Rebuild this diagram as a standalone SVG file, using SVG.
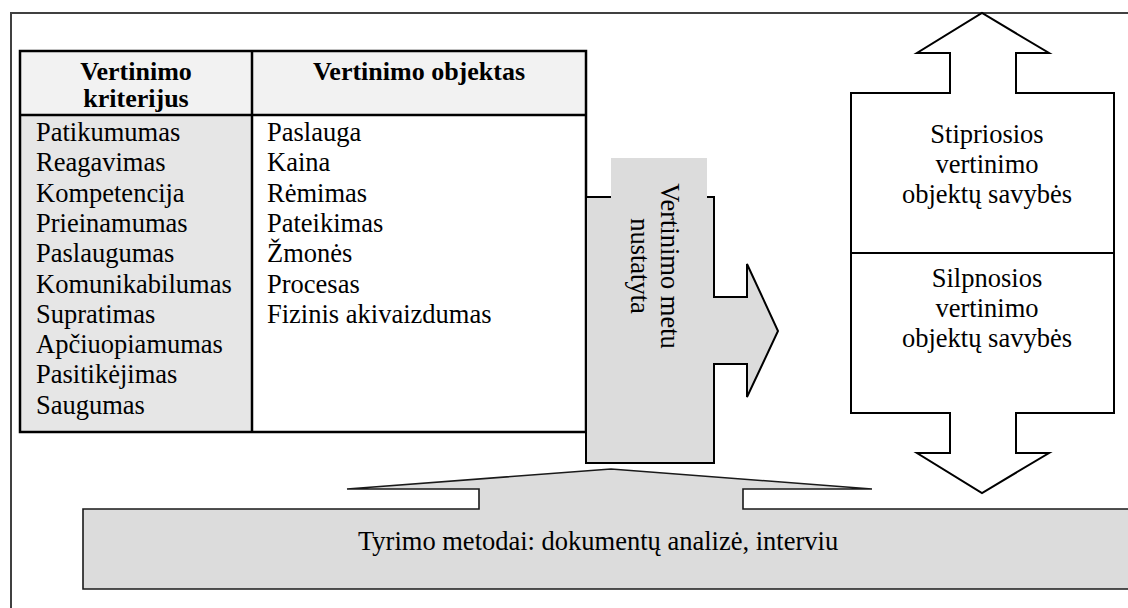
<svg xmlns="http://www.w3.org/2000/svg" width="1128" height="608" viewBox="0 0 1128 608" font-family="'Liberation Serif', 'Times New Roman', serif" font-size="26.5">
  <style>
    .hdr { font-weight: bold; text-anchor: middle; font-size: 26px; }
    .mid { text-anchor: middle; }
    .grid { stroke: #000; stroke-width: 2.5; fill: none; }
    .outline { stroke: #000; stroke-width: 2; stroke-linejoin: miter; }
  </style>

  <!-- page frame -->
  <rect x="11" y="13" width="1130" height="610" fill="#fff" stroke="#404040" stroke-width="2"/>

  <!-- evaluation table -->
  <g id="table">
    <rect x="20" y="51" width="566" height="64" fill="#f2f2f2"/>
    <rect x="20" y="115" width="232" height="317" fill="#e6e6e6"/>
    <rect x="252" y="115" width="334" height="317" fill="#fff"/>
    <rect class="grid" x="20" y="51" width="566" height="381"/>
    <line class="grid" x1="20" y1="115" x2="586" y2="115"/>
    <line class="grid" x1="252" y1="51" x2="252" y2="432"/>

    <text class="hdr" x="136" y="80">Vertinimo</text>
    <text class="hdr" x="136" y="107">kriterijus</text>
    <text class="hdr" x="419" y="80">Vertinimo objektas</text>

    <g>
      <text x="36" y="141">Patikumumas</text>
      <text x="36" y="171.3">Reagavimas</text>
      <text x="36" y="201.6">Kompetencija</text>
      <text x="36" y="231.9">Prieinamumas</text>
      <text x="36" y="262.2">Paslaugumas</text>
      <text x="36" y="292.5">Komunikabilumas</text>
      <text x="36" y="322.8">Supratimas</text>
      <text x="36" y="353.1">Apčiuopiamumas</text>
      <text x="36" y="383.4">Pasitikėjimas</text>
      <text x="36" y="413.7">Saugumas</text>
    </g>
    <g>
      <text x="267" y="141">Paslauga</text>
      <text x="267" y="171.3">Kaina</text>
      <text x="267" y="201.6">Rėmimas</text>
      <text x="267" y="231.9">Pateikimas</text>
      <text x="267" y="262.2">Žmonės</text>
      <text x="267" y="292.5">Procesas</text>
      <text x="267" y="322.8">Fizinis akivaizdumas</text>
    </g>
  </g>

  <!-- strengths / weaknesses box with up and down block arrows -->
  <g id="properties">
    <path class="outline" fill="#fff" d="M851,93 H950 V53 H917 L982,13 L1049,53 H1016 V93 H1114 V413 H1016 V453 H1049 L982,493 L917,453 H950 V413 H851 Z"/>
    <line class="outline" x1="851" y1="253" x2="1114" y2="253"/>
    <text class="mid" x="987" y="143">Stipriosios</text>
    <text class="mid" x="987" y="173">vertinimo</text>
    <text class="mid" x="987" y="203">objektų savybės</text>
    <text class="mid" x="987" y="287">Silpnosios</text>
    <text class="mid" x="987" y="317">vertinimo</text>
    <text class="mid" x="987" y="347">objektų savybės</text>
  </g>

  <!-- research methods box with pointer -->
  <g id="methods">
    <polygon fill="#dcdcdc" stroke="#1a1a1a" stroke-width="1.6" stroke-linejoin="miter"
      points="83,509 479,509 479,489 347,489 611,469 872,489 743,489 743,509 1134,509 1134,589 83,589"/>
    <text x="358" y="550">Tyrimo metodai: dokumentų analizė, interviu</text>
  </g>

  <!-- block arrow from the table to the properties box -->
  <g id="connectors">
    <polygon class="outline" fill="#dcdcdc"
      points="586,197 714,197 714,297 747,297 747,264 778,331 747,397 747,364 714,364 714,463 586,463"/>
    <rect x="611" y="158" width="96" height="220" fill="#dcdcdc"/>
    <text class="mid" transform="translate(661,266) rotate(90)">Vertinimo metu</text>
    <text class="mid" transform="translate(631,266) rotate(90)">nustatyta</text>
  </g>
</svg>
